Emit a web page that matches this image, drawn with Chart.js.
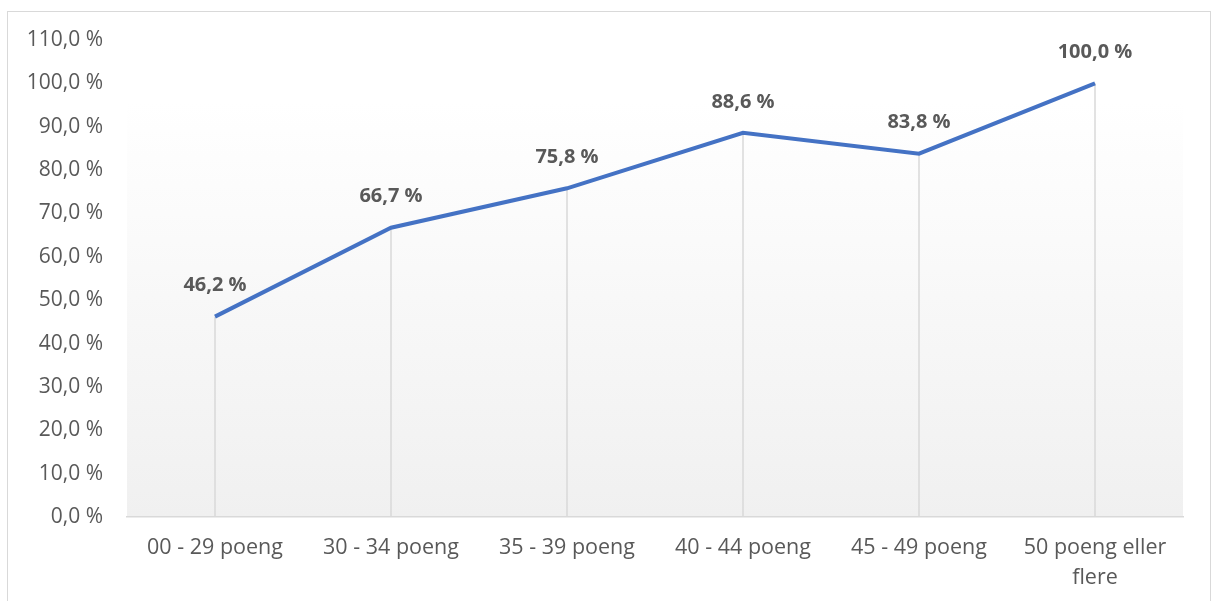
<!DOCTYPE html>
<html>
<head>
<meta charset="utf-8">
<script src="https://cdn.jsdelivr.net/npm/chart.js@4.4.1/dist/chart.umd.min.js"></script>
<style>
    html, body { margin: 0; padding: 0; background: #ffffff; }
    #wrap { position: absolute; left: 0; top: 0; width: 1212px; height: 601px; }
</style>
</head>
<body>
<div id="wrap"><canvas id="chart" width="1212" height="601"></canvas></div>
<script>
// Data
const categories = ['00 - 29 poeng', '30 - 34 poeng', '35 - 39 poeng', '40 - 44 poeng', '45 - 49 poeng', ['50 poeng eller', 'flere']];
const shares = [46.2, 66.7, 75.8, 88.6, 83.8, 100.0];
const yTicks = [0, 10, 20, 30, 40, 50, 60, 70, 80, 90, 100, 110];

const textColor = '#595959';
const fontFamily = '"Open Sans", sans-serif';

function pct(v) {
    return v.toFixed(1).replace('.', ',') + ' %';
}

// Outer frame + gradient plot background
const backgroundPlugin = {
    id: 'background',
    beforeDraw(chart) {
        const ctx = chart.ctx;
        const area = chart.chartArea;
        ctx.save();
        ctx.strokeStyle = '#d9d9d9';
        ctx.lineWidth = 1;
        ctx.strokeRect(7.5, 11.5, chart.width - 9, chart.height + 10);
        const grad = ctx.createLinearGradient(0, area.top, 0, area.bottom);
        grad.addColorStop(0, '#ffffff');
        grad.addColorStop(0.13, '#ffffff');
        grad.addColorStop(1, '#f0f0f0');
        ctx.fillStyle = grad;
        ctx.fillRect(area.left, area.top, area.right - area.left, area.bottom - area.top);
        ctx.restore();
    }
};

// Drop lines from each point down to the axis
const dropLinesPlugin = {
    id: 'dropLines',
    beforeDatasetsDraw(chart) {
        const ctx = chart.ctx;
        const meta = chart.getDatasetMeta(0);
        const base = chart.scales.y.getPixelForValue(0);
        ctx.save();
        ctx.strokeStyle = '#d9d9d9';
        ctx.lineWidth = 1.5;
        meta.data.forEach(pt => {
            ctx.beginPath();
            ctx.moveTo(pt.x, pt.y);
            ctx.lineTo(pt.x, base);
            ctx.stroke();
        });
        ctx.restore();
    }
};

// Bold value labels above points
const valueLabelsPlugin = {
    id: 'valueLabels',
    afterDatasetsDraw(chart) {
        const ctx = chart.ctx;
        const meta = chart.getDatasetMeta(0);
        ctx.save();
        ctx.fillStyle = textColor;
        ctx.font = 'bold 20px ' + fontFamily;
        ctx.textAlign = 'center';
        ctx.textBaseline = 'middle';
        meta.data.forEach((pt, i) => {
            ctx.fillText(pct(shares[i]), pt.x, pt.y - 31);
        });
        ctx.restore();
    }
};

new Chart(document.getElementById('chart'), {
    type: 'line',
    data: {
        labels: categories,
        datasets: [{
            data: shares,
            borderColor: '#4472c4',
            borderWidth: 4,
            pointRadius: 0,
            fill: false,
            tension: 0
        }]
    },
    options: {
        responsive: false,
        animation: false,
        plugins: {
            legend: { display: false },
            tooltip: { enabled: false }
        },
        layout: {
            padding: { top: 40, right: 29, bottom: 0, left: 0 }
        },
        scales: {
            x: {
                offset: true,
                grid: { display: false, drawTicks: false },
                border: { display: true, color: '#d9d9d9', width: 1.5 },
                ticks: {
                    color: textColor,
                    font: { family: fontFamily, size: 21.5, lineHeight: 1.4 },
                    padding: 16,
                    maxRotation: 0,
                    autoSkip: false
                },
                afterFit(scale) { scale.height = 84; }
            },
            y: {
                min: 0,
                max: 110,
                afterBuildTicks(scale) {
                    scale.ticks = yTicks.map(v => ({ value: v }));
                },
                grid: { display: false, drawTicks: false },
                border: { display: false },
                ticks: {
                    color: textColor,
                    font: { family: fontFamily, size: 21 },
                    padding: 24,
                    callback: v => pct(v)
                },
                afterFit(scale) { scale.width = 127; }
            }
        }
    },
    plugins: [backgroundPlugin, dropLinesPlugin, valueLabelsPlugin]
});
</script>
</body>
</html>
